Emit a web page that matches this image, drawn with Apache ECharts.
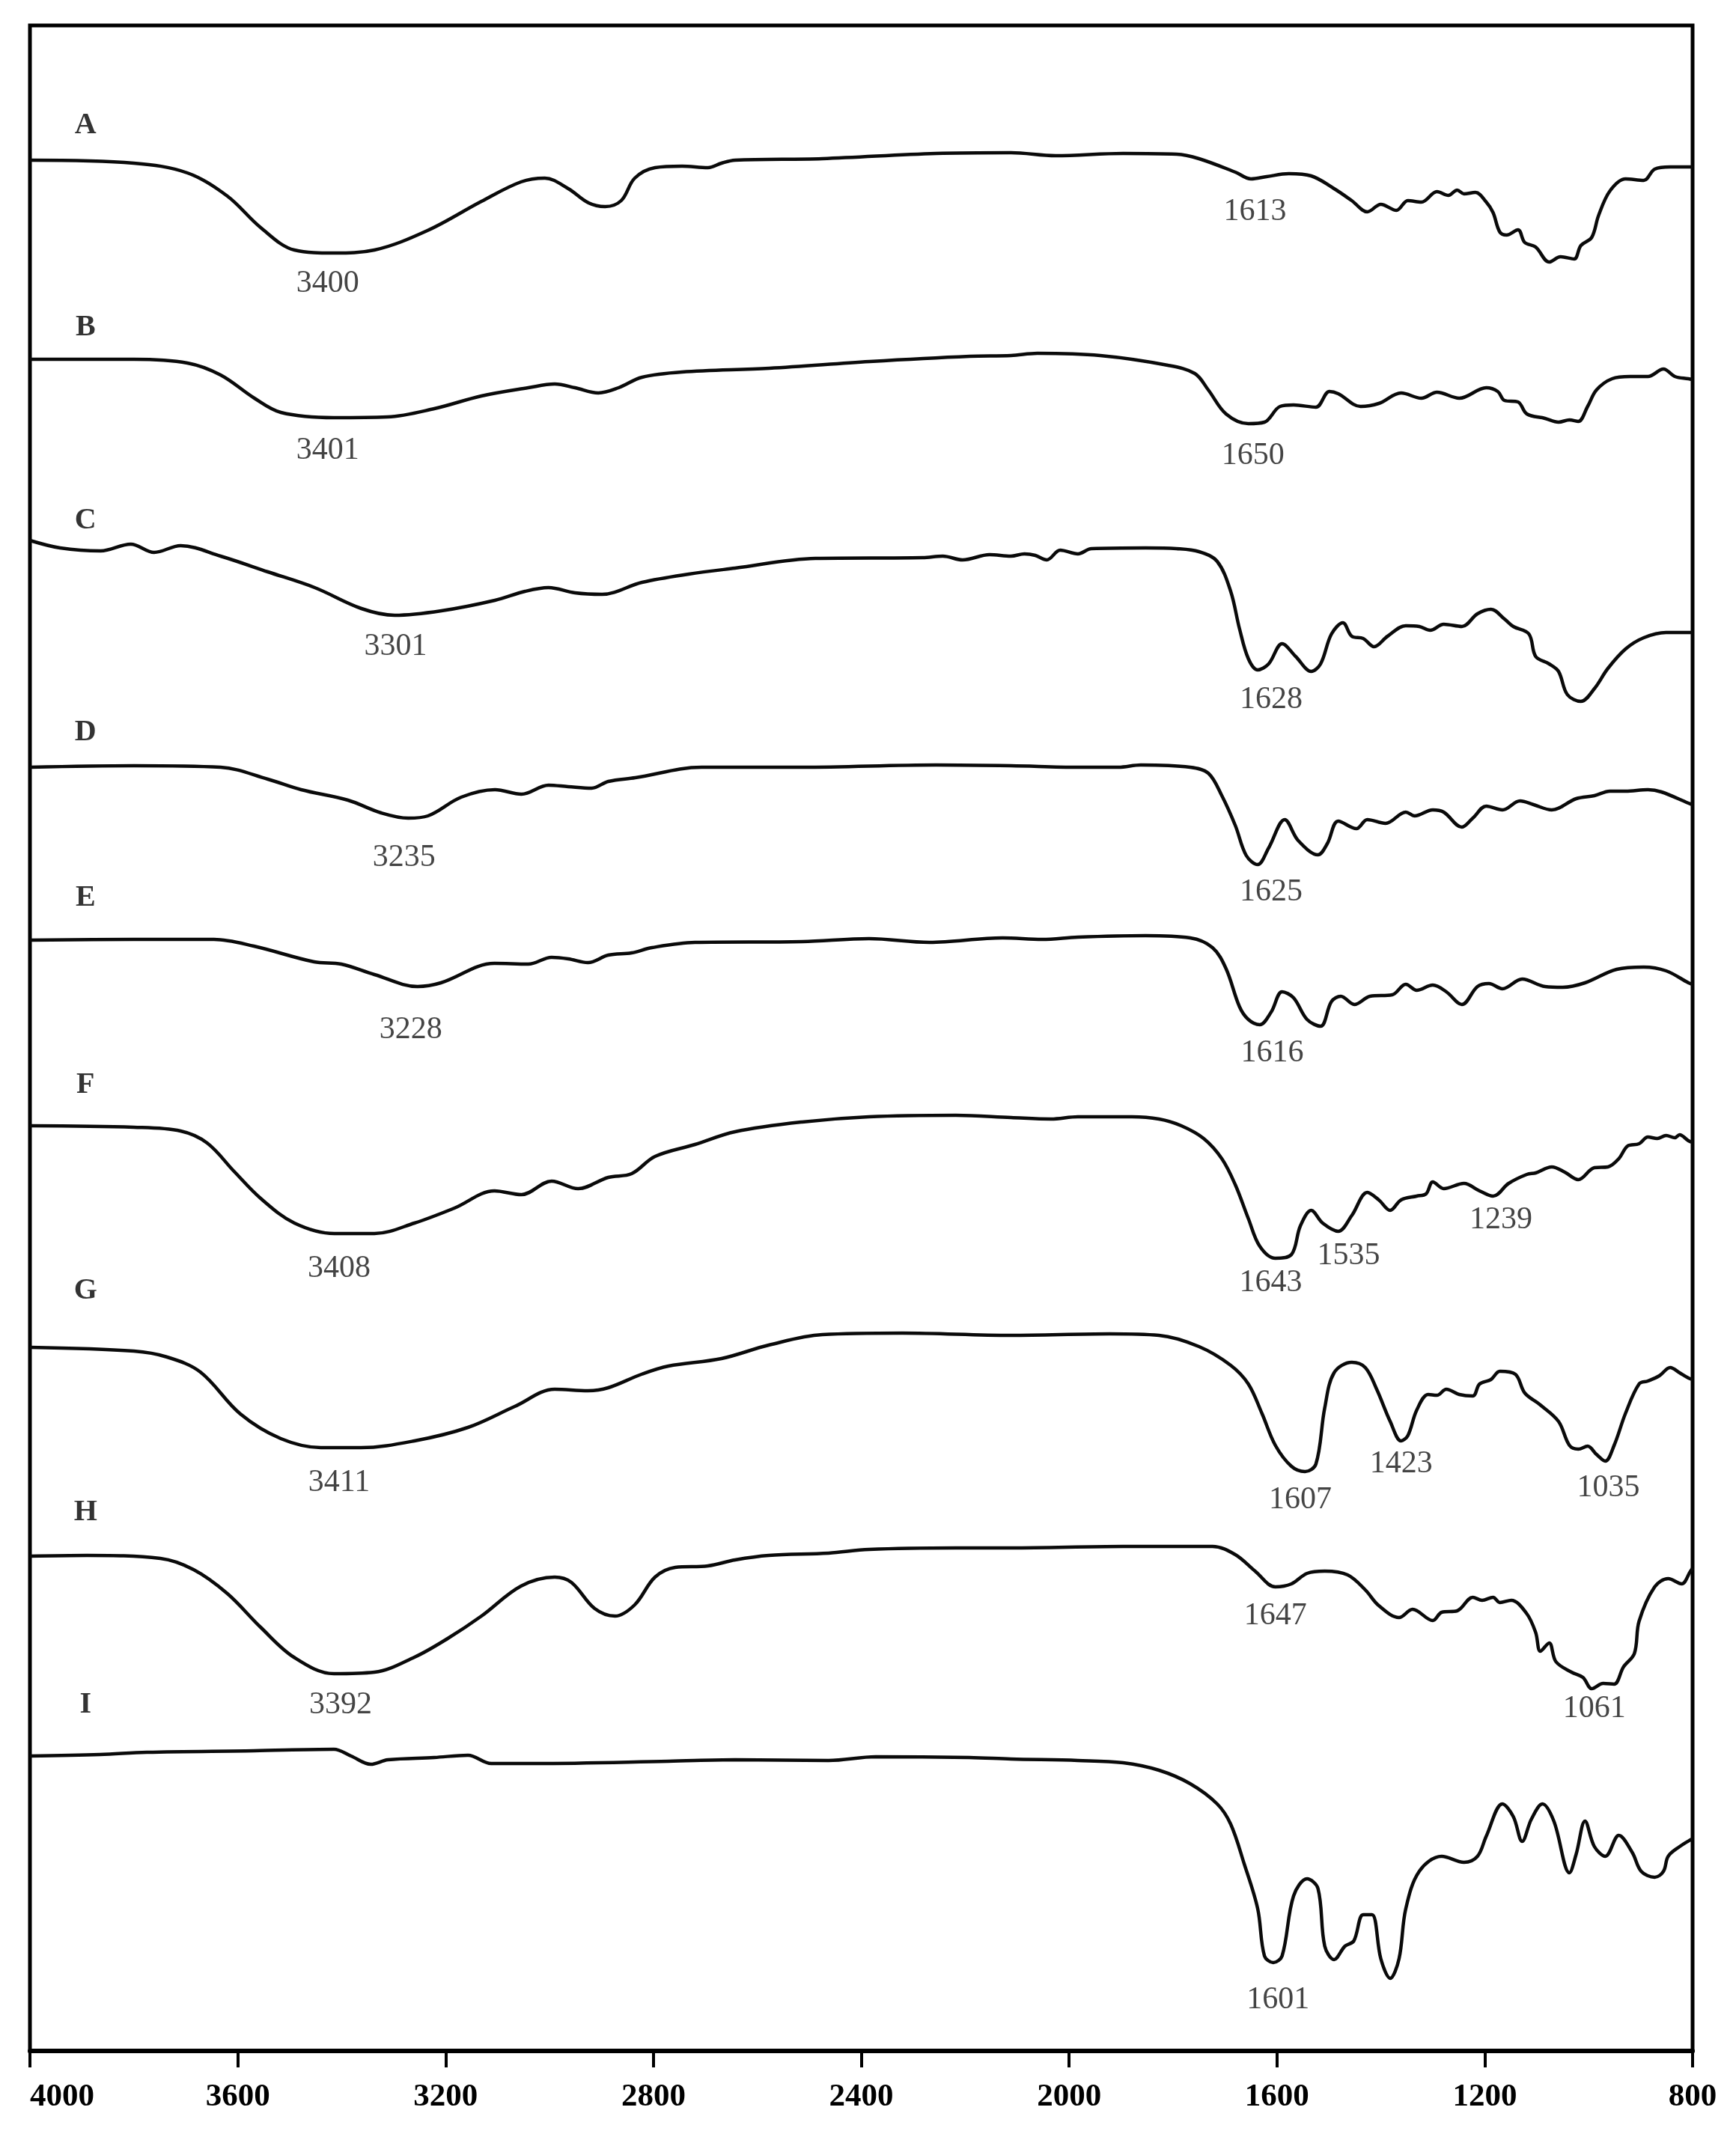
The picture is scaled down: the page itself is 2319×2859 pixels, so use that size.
<!DOCTYPE html>
<html>
<head>
<meta charset="utf-8">
<title>FTIR spectra A–I</title>
<script src="https://cdn.jsdelivr.net/npm/echarts@6/dist/echarts.min.js"></script>
<style>
  html, body { margin: 0; padding: 0; background: #fff; }
  #chart { width: 2319px; height: 2859px; }
</style>
</head>
<body>
<div id="chart"></div>
<script>
// wavenumber (cm-1) vs. stacked transmittance (arbitrary units)
const traceA = [[4000,2526],[3800,2522],[3697,2509],[3620,2478],[3556,2436],[3491,2406],[3415,2402],[3337,2406],[3235,2432],[3131,2471],[3055,2497],[3009,2502],[2964,2488],[2925,2469],[2893,2464],[2862,2472],[2836,2502],[2797,2516],[2745,2518],[2695,2516],[2669,2522],[2643,2526],[2475,2528],[2256,2535],[2112,2536],[2026,2532],[1896,2535],[1793,2534],[1750,2528],[1680,2510],[1650,2501],[1620,2504],[1577,2508],[1534,2505],[1490,2488],[1456,2472],[1426,2457],[1400,2467],[1370,2459],[1348,2472],[1322,2470],[1292,2484],[1270,2479],[1253,2486],[1240,2481],[1218,2483],[1197,2470],[1184,2456],[1171,2430],[1158,2426],[1136,2433],[1123,2416],[1102,2410],[1076,2390],[1054,2397],[1028,2394],[1015,2412],[994,2423],[981,2452],[959,2485],[929,2501],[894,2499],[873,2514],[843,2517],[808,2517],[800,2517]];
const traceB = [[4000,2260],[3800,2260],[3697,2255],[3633,2239],[3568,2208],[3517,2189],[3415,2182],[3312,2183],[3222,2194],[3131,2211],[3041,2222],[2990,2227],[2951,2222],[2906,2215],[2867,2222],[2822,2236],[2745,2243],[2577,2248],[2384,2257],[2191,2264],[2112,2265],[2061,2268],[1940,2265],[1810,2252],[1758,2241],[1732,2219],[1698,2187],[1655,2174],[1624,2176],[1594,2197],[1568,2199],[1525,2196],[1499,2217],[1482,2214],[1439,2197],[1404,2201],[1361,2215],[1322,2208],[1292,2216],[1249,2208],[1197,2222],[1175,2217],[1162,2205],[1136,2203],[1119,2187],[1084,2181],[1058,2176],[1037,2179],[1020,2177],[1002,2197],[985,2219],[955,2234],[920,2237],[886,2237],[856,2247],[834,2237],[808,2234],[800,2233]];
const traceC = [[4000,2018],[3942,2008],[3864,2004],[3806,2013],[3761,2002],[3710,2011],[3633,1997],[3542,1976],[3452,1955],[3362,1927],[3298,1918],[3208,1924],[3105,1938],[3047,1950],[3002,1955],[2951,1948],[2899,1946],[2822,1962],[2732,1973],[2643,1981],[2488,1994],[2282,1995],[2243,1997],[2205,1992],[2153,1999],[2112,1997],[2086,2000],[2065,1998],[2043,1992],[2017,2005],[1983,2000],[1957,2007],[1853,2008],[1793,2007],[1750,2003],[1715,1990],[1689,1950],[1672,1900],[1655,1860],[1637,1845],[1616,1853],[1590,1880],[1564,1863],[1534,1843],[1516,1853],[1495,1893],[1473,1908],[1456,1890],[1434,1887],[1413,1876],[1387,1890],[1352,1904],[1326,1903],[1305,1898],[1279,1906],[1244,1903],[1214,1920],[1188,1926],[1162,1913],[1145,1903],[1115,1893],[1102,1863],[1076,1853],[1058,1843],[1041,1812],[1015,1803],[989,1820],[963,1847],[929,1873],[894,1888],[851,1895],[808,1895],[800,1895]];
const traceD = [[4000,1715],[3800,1717],[3633,1715],[3542,1699],[3478,1685],[3388,1671],[3324,1654],[3272,1647],[3234,1650],[3170,1675],[3105,1685],[3054,1679],[3002,1691],[2964,1689],[2919,1687],[2887,1696],[2835,1701],[2707,1715],[2514,1715],[2256,1718],[2112,1717],[1983,1715],[1905,1715],[1862,1718],[1767,1715],[1732,1707],[1706,1677],[1680,1637],[1659,1597],[1637,1585],[1616,1607],[1585,1645],[1559,1617],[1521,1598],[1503,1613],[1482,1643],[1447,1633],[1426,1645],[1391,1640],[1352,1655],[1335,1650],[1300,1658],[1279,1655],[1244,1635],[1223,1647],[1197,1663],[1166,1658],[1132,1670],[1106,1665],[1071,1658],[1024,1673],[989,1677],[959,1683],[929,1683],[886,1685],[860,1682],[808,1667],[800,1665]];
const traceE = [[4000,1484],[3800,1485],[3646,1485],[3569,1476],[3453,1455],[3401,1452],[3337,1438],[3254,1422],[3209,1427],[3106,1453],[3041,1452],[2996,1461],[2964,1459],[2926,1454],[2887,1464],[2842,1467],[2803,1474],[2720,1481],[2514,1482],[2385,1486],[2269,1481],[2128,1487],[2052,1485],[1983,1488],[1853,1490],[1767,1487],[1724,1474],[1698,1446],[1672,1395],[1655,1378],[1633,1371],[1611,1388],[1590,1415],[1568,1407],[1542,1378],[1516,1369],[1495,1402],[1477,1409],[1451,1398],[1421,1409],[1378,1411],[1352,1425],[1331,1417],[1300,1424],[1274,1415],[1244,1398],[1214,1422],[1192,1426],[1166,1419],[1128,1432],[1084,1422],[1050,1421],[1007,1427],[946,1445],[894,1448],[851,1443],[808,1427],[800,1425]];
const traceF = [[4000,1236],[3800,1234],[3710,1229],[3659,1213],[3607,1175],[3556,1139],[3491,1106],[3414,1092],[3337,1092],[3260,1106],[3183,1126],[3106,1149],[3054,1144],[2996,1162],[2945,1152],[2887,1167],[2842,1172],[2797,1195],[2720,1211],[2643,1228],[2514,1241],[2385,1248],[2218,1250],[2112,1247],[2035,1245],[1983,1248],[1879,1248],[1827,1245],[1784,1236],[1741,1219],[1706,1192],[1680,1157],[1655,1112],[1633,1075],[1603,1059],[1572,1064],[1555,1102],[1534,1123],[1512,1106],[1482,1095],[1456,1116],[1426,1147],[1404,1137],[1382,1123],[1361,1137],[1331,1142],[1313,1145],[1300,1161],[1279,1152],[1240,1159],[1210,1149],[1184,1142],[1154,1159],[1119,1171],[1102,1173],[1071,1181],[1046,1174],[1020,1164],[989,1180],[963,1181],[942,1192],[925,1209],[903,1212],[886,1221],[868,1219],[851,1223],[834,1220],[825,1224],[808,1216],[800,1214]];
const traceG = [[4000,940],[3800,935],[3736,927],[3672,907],[3595,851],[3517,818],[3440,806],[3363,806],[3260,815],[3157,833],[3067,861],[2990,884],[2926,882],[2887,886],[2823,904],[2771,915],[2669,925],[2578,943],[2475,957],[2321,959],[2112,956],[1922,958],[1827,956],[1750,941],[1689,916],[1655,891],[1629,852],[1603,809],[1572,781],[1546,774],[1525,784],[1508,859],[1490,906],[1456,920],[1430,913],[1408,884],[1382,841],[1361,815],[1348,822],[1331,856],[1309,877],[1292,876],[1274,884],[1249,877],[1223,875],[1210,891],[1188,897],[1171,908],[1141,904],[1123,879],[1093,863],[1058,841],[1037,809],[1020,804],[1002,808],[985,797],[968,788],[951,809],[929,852],[903,891],[886,895],[864,902],[843,913],[825,906],[808,899],[800,897]];
const traceH = [[4000,661],[3890,662],[3749,658],[3685,643],[3620,611],[3556,566],[3492,526],[3415,504],[3337,506],[3260,526],[3196,551],[3131,581],[3055,621],[2990,633],[2958,626],[2913,591],[2874,581],[2836,596],[2797,633],[2758,646],[2695,648],[2643,656],[2578,662],[2463,665],[2385,670],[2218,672],[2112,672],[1896,674],[1724,674],[1680,663],[1642,641],[1603,620],[1572,624],[1542,638],[1508,641],[1464,636],[1430,616],[1404,595],[1365,579],[1339,590],[1300,575],[1283,586],[1253,588],[1223,606],[1205,602],[1184,606],[1171,599],[1149,602],[1119,584],[1102,559],[1093,534],[1076,545],[1063,520],[1033,506],[1011,499],[994,484],[972,491],[951,490],[933,513],[912,531],[903,574],[873,620],[847,631],[821,624],[804,641],[800,645]];
const traceI = [[4000,394],[3865,396],[3775,399],[3569,401],[3415,403],[3382,394],[3344,383],[3311,389],[3222,392],[3157,395],[3112,384],[3028,384],[2771,387],[2643,389],[2463,388],[2372,393],[2192,392],[2112,390],[1983,388],[1896,385],[1827,375],[1767,357],[1715,330],[1689,303],[1663,250],[1637,190],[1624,127],[1607,118],[1590,127],[1568,207],[1542,230],[1521,217],[1508,140],[1490,122],[1469,140],[1452,147],[1434,182],[1417,182],[1400,123],[1382,97],[1365,123],[1352,190],[1326,240],[1283,260],[1240,252],[1214,260],[1197,287],[1166,330],[1145,313],[1128,280],[1110,310],[1089,330],[1067,307],[1037,238],[1024,263],[1007,307],[989,273],[968,260],[942,288],[916,265],[899,240],[873,232],[856,240],[847,260],[825,273],[804,282],[800,283]];

const traceNames = ['A', 'B', 'C', 'D', 'E', 'F', 'G', 'H', 'I'];
const traces = [traceA, traceB, traceC, traceD, traceE, traceF, traceG, traceH, traceI];

// sample letter labels: [text, wavenumber, level]
const letterLabels = [['A',3893,2572],['B',3893,2302],['C',3893,2044],['D',3893,1761],['E',3893,1540],['F',3893,1290],['G',3893,1015],['H',3893,719],['I',3893,462]];

// band annotations: [text, wavenumber, level]
const peakLabels = [
  ['3400',3427,2361],['1613',1642,2457],
  ['3401',3427,2138],['1650',1646,2131],
  ['3301',3296,1876],['1628',1611,1805],
  ['3235',3280,1594],['1625',1611,1548],
  ['3228',3267,1364],['1616',1609,1333],
  ['3408',3405,1045],['1643',1612,1026],['1535',1462,1062],['1239',1169,1110],
  ['3411',3405,759],['1607',1555,736],['1423',1361,784],['1035',962,752],
  ['3392',3402,462],['1647',1603,581],['1061',989,457],
  ['1601',1598,68]
];

const xTicks = [4000, 3600, 3200, 2800, 2400, 2000, 1600, 1200, 800];

const chart = echarts.init(document.getElementById('chart'));

const serif = 'Liberation Serif, Times New Roman, serif';

const series = traces.map((data, i) => ({
  name: traceNames[i],
  type: 'line',
  data: data,
  showSymbol: false,
  smooth: 0.35,
  lineStyle: { color: '#0a0a0a', width: 4.5 },
  silent: true,
  z: 3
}));

series.push({
  type: 'scatter',
  data: letterLabels.map(d => ({ name: d[0], value: [d[1], d[2]] })),
  symbolSize: 1,
  itemStyle: { color: 'rgba(0,0,0,0)' },
  label: {
    show: true,
    position: 'inside',
    formatter: p => p.name,
    fontFamily: serif,
    fontWeight: 'bold',
    fontSize: 40,
    color: '#000'
  },
  silent: true,
  z: 4
});

series.push({
  type: 'scatter',
  data: peakLabels.map(d => ({ name: d[0], value: [d[1], d[2]] })),
  symbolSize: 1,
  itemStyle: { color: 'rgba(0,0,0,0)' },
  label: {
    show: true,
    position: 'inside',
    formatter: p => p.name,
    fontFamily: serif,
    fontSize: 42,
    color: '#151515'
  },
  silent: true,
  z: 4
});

const option = {
  animation: false,
  backgroundColor: '#fff',
  grid: {
    left: 40,
    right: 58,
    top: 34,
    bottom: 119,
    show: true,
    borderColor: '#000',
    borderWidth: 5,
    backgroundColor: 'transparent'
  },
  xAxis: {
    type: 'value',
    min: 800,
    max: 4000,
    interval: 400,
    inverse: true,
    axisLine: { show: true, lineStyle: { color: '#000', width: 6 } },
    axisTick: { show: true, inside: false, length: 22, lineStyle: { color: '#000', width: 4 } },
    splitLine: { show: false },
    axisLabel: {
      show: true,
      margin: 40,
      fontFamily: serif,
      fontWeight: 'bold',
      fontSize: 43,
      color: '#000',
      alignMaxLabel: 'left',
      formatter: v => (xTicks.indexOf(v) >= 0 ? String(v) : '')
    }
  },
  yAxis: {
    type: 'value',
    min: 0,
    max: 2706,
    show: false,
    splitLine: { show: false }
  },
  series: series
};

chart.setOption(option);
</script>
</body>
</html>
